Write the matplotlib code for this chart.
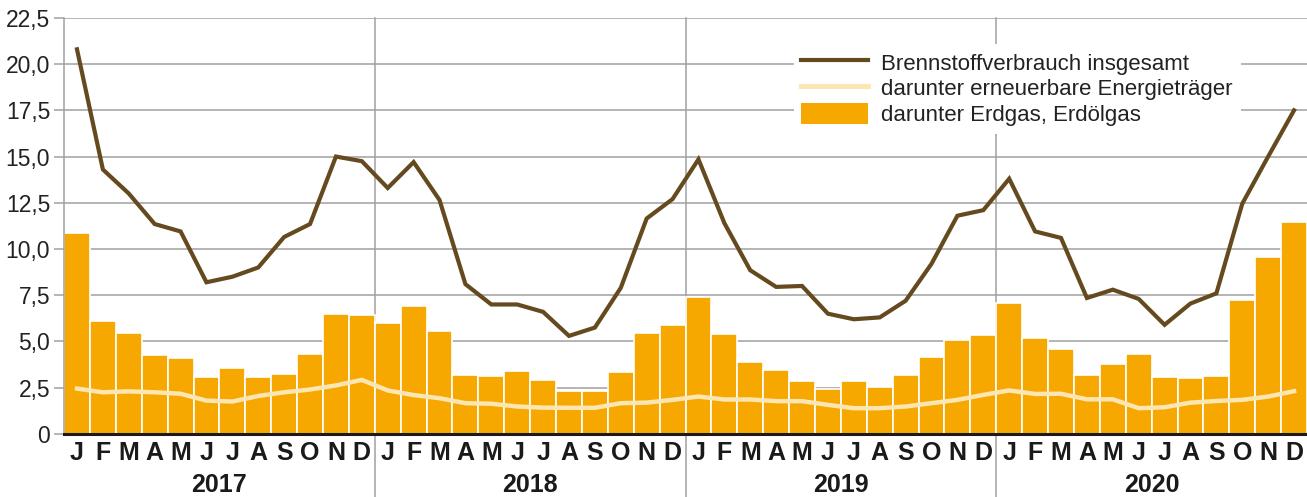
import numpy as np
import matplotlib.pyplot as plt
from matplotlib.lines import Line2D
from matplotlib.patches import Patch
from matplotlib.transforms import blended_transform_factory

plt.rcParams['font.family'] = ['Liberation Sans', 'DejaVu Sans']

# month labels and years
months = ["J", "F", "M", "A", "M", "J", "J", "A", "S", "O", "N", "D"]
years = ["2017", "2018", "2019", "2020"]

# Brennstoffverbrauch insgesamt (dark line)
total = [20.8, 14.3, 13.0, 11.35, 10.95, 8.2, 8.5, 9.0, 10.65, 11.35, 15.0, 14.75,
         13.3, 14.7, 12.65, 8.1, 7.0, 7.0, 6.6, 5.3, 5.75, 7.9, 11.65, 12.7,
         14.85, 11.4, 8.85, 7.95, 8.0, 6.5, 6.2, 6.3, 7.2, 9.2, 11.8, 12.1,
         13.8, 10.95, 10.6, 7.35, 7.8, 7.3, 5.9, 7.05, 7.6, 12.45, 15.0, 17.5]

# darunter erneuerbare Energietraeger (light line)
renewable = [2.45, 2.25, 2.3, 2.25, 2.17, 1.8, 1.75, 2.05, 2.25, 2.4, 2.62, 2.92,
             2.35, 2.1, 1.93, 1.66, 1.63, 1.48, 1.42, 1.41, 1.41, 1.66, 1.69, 1.84,
             2.02, 1.86, 1.86, 1.77, 1.77, 1.57, 1.39, 1.39, 1.48, 1.66, 1.84, 2.11,
             2.35, 2.16, 2.17, 1.87, 1.87, 1.39, 1.44, 1.69, 1.78, 1.84, 2.02, 2.31]

# darunter Erdgas, Erdoelgas (bars)
gas = [10.85, 6.1, 5.45, 4.28, 4.12, 3.1, 3.57, 3.05, 3.23, 4.31, 6.5, 6.45,
       6.0, 6.9, 5.57, 3.17, 3.12, 3.42, 2.94, 2.32, 2.32, 3.35, 5.48, 5.9,
       7.42, 5.4, 3.88, 3.46, 2.86, 2.41, 2.85, 2.54, 3.19, 4.18, 5.08, 5.35,
       7.08, 5.17, 4.59, 3.19, 3.8, 4.32, 3.08, 3.03, 3.14, 7.25, 9.55, 11.48]

dark = "#654a1f"
light = "#fde6b2"
orange = "#f6a800"
grid = "#a0a0a0"

x = np.arange(len(gas))

fig = plt.figure(figsize=(13.07, 4.97), dpi=100)
ax = fig.add_axes([0.049, 0.127, 0.951, 0.837])

ax.bar(x, gas, width=1.0, color=orange, edgecolor="white", linewidth=1.2, zorder=2)
ax.plot(x, renewable, color=light, linewidth=3.2, zorder=3, solid_joinstyle="miter")
ax.plot(x, total, color=dark, linewidth=3.0, zorder=4, solid_joinstyle="miter")

ax.set_xlim(-0.5, len(gas) - 0.5)
ax.set_ylim(0, 22.5)
yt = np.arange(0, 22.6, 2.5)
ax.set_yticks(yt)
ax.set_yticklabels(["0"] + [f"{v:.1f}".replace(".", ",") for v in yt[1:]])
ax.yaxis.grid(True, color=grid, linewidth=1.1, zorder=0)
ax.set_axisbelow(True)
ax.tick_params(axis="y", length=7, width=1.1, color=grid, labelsize=16.5,
               labelcolor="#222222", pad=3)

ax.set_xticks(x)
ax.set_xticklabels(months * len(years), fontweight="bold", fontsize=18, color="#1a1a1a")
ax.tick_params(axis="x", length=0, pad=5)

for s in ["top", "right"]:
    ax.spines[s].set_visible(False)
ax.spines["left"].set_color(grid)
ax.spines["left"].set_linewidth(1.1)
ax.spines["bottom"].set_color("#1a1a1a")
ax.spines["bottom"].set_linewidth(2.2)
ax.spines["bottom"].set_zorder(5)

# year separators
for k in range(1, len(years)):
    ax.axvline(12 * k - 0.5, ymin=-0.16, ymax=1.0, color=grid, linewidth=1.1,
               clip_on=False, zorder=1)

trans = blended_transform_factory(ax.transData, ax.transAxes)
for k, yr in enumerate(years):
    ax.text(12 * k + 5.5, -0.122, yr, transform=trans, ha="center", va="center",
            fontsize=18, fontweight="bold", color="#1a1a1a")

handles = [Line2D([], [], color=dark, linewidth=3.0),
           Line2D([], [], color=light, linewidth=3.6),
           Patch(facecolor=orange, edgecolor="none")]
labels = ["Brennstoffverbrauch insgesamt",
          "darunter erneuerbare Energieträger",
          "darunter Erdgas, Erdölgas"]
leg = ax.legend(handles, labels, loc="upper left", bbox_to_anchor=(0.578, 0.965),
                fontsize=16, frameon=True, facecolor="white", edgecolor="none",
                framealpha=1, fancybox=False, handlelength=3.0, handleheight=1.1,
                handletextpad=0.6, labelspacing=0.12, borderpad=0.35)
for t in leg.get_texts():
    t.set_color("#222222")
leg.set_zorder(6)

fig.savefig("out.png", dpi=100)
